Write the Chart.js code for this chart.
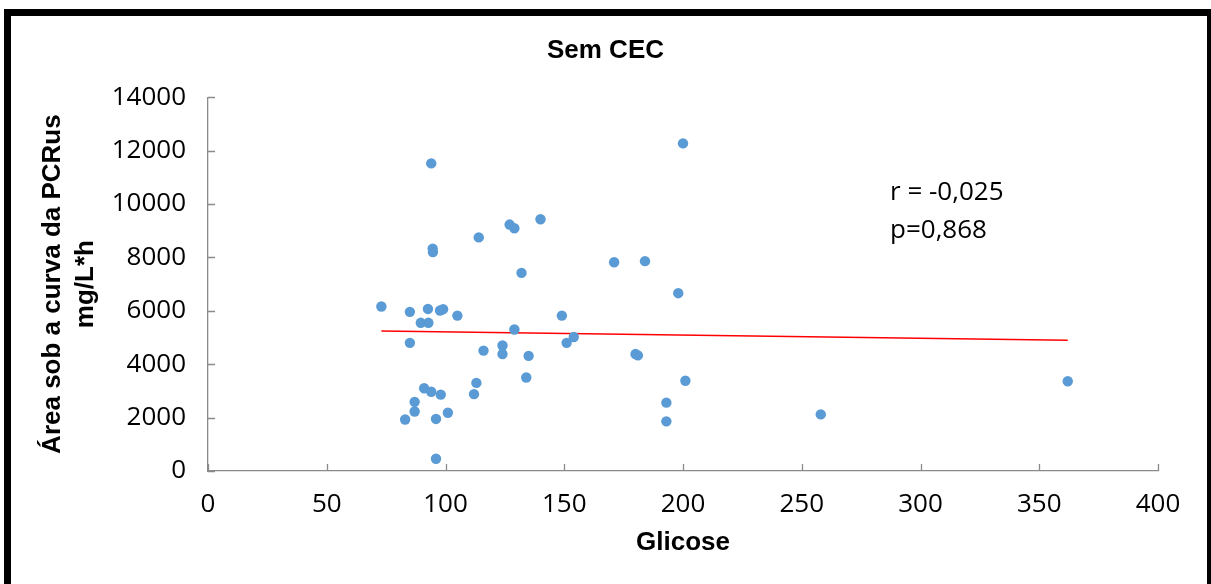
<!DOCTYPE html>
<html>
<head>
<meta charset="utf-8">
<script src="https://cdn.jsdelivr.net/npm/chart.js@4.4.1/dist/chart.umd.min.js"></script>
<style>
  html, body { margin: 0; padding: 0; background: #fff; overflow: hidden; }
  #wrap { position: relative; width: 1211px; height: 584px; }
  #c { position: absolute; left: 0; top: 0; }
  #frame { position: absolute; left: 4px; top: 9px; width: 1210px; height: 600px; box-sizing: border-box; border: 7px solid #000; pointer-events: none; }
</style>
</head>
<body>
<div id="wrap">
  <canvas id="c" width="1211" height="584"></canvas>
  <div id="frame"></div>
</div>
<script>
// Glicose (x) and area under PCRus curve (y)
const glicose = [94, 127, 129, 140, 114, 94.6, 94.7, 132, 171, 73,
                 85, 92.6, 97.7, 99, 105, 149, 89.6, 92.8, 85, 129,
                 116, 124, 124, 135, 151, 154, 134, 113, 112, 91,
                 94, 98, 87, 87, 83, 96, 101, 96, 180, 181,
                 201, 193, 193, 200, 184, 198, 258, 362];
const auc = [11520, 9230, 9090, 9430, 8750, 8330, 8200, 7420, 7820, 6160,
             5960, 6070, 6010, 6060, 5820, 5820, 5550, 5550, 4800, 5300,
             4510, 4700, 4380, 4310, 4800, 5020, 3500, 3300, 2880, 3100,
             2970, 2860, 2590, 2230, 1930, 1950, 2180, 460, 4380, 4330,
             3380, 2560, 1860, 12270, 7860, 6660, 2120, 3360];
// Linear trend line end points
const trendX = [73, 362];
const trendY = [5248, 4900];
// Axis ranges / ticks
const xTicks = [0, 50, 100, 150, 200, 250, 300, 350, 400];
const yTicks = [0, 2000, 4000, 6000, 8000, 10000, 12000, 14000];
const statsText = ['r = -0,025', 'p=0,868'];

const scatterPts = glicose.map((x, i) => ({ x: x, y: auc[i] }));
const trendPts = trendX.map((x, i) => ({ x: x, y: trendY[i] }));

const AXIS_COLOR = '#8a8a8a';

const insideTicks = {
  id: 'insideTicks',
  afterDraw(chart) {
    const ctx = chart.ctx;
    const xs = chart.scales.x, ys = chart.scales.y;
    ctx.save();
    ctx.strokeStyle = AXIS_COLOR;
    ctx.lineWidth = 1.3;
    ctx.beginPath();
    xTicks.forEach(v => {
      const px = Math.round(xs.getPixelForValue(v)) + 0.5;
      ctx.moveTo(px, ys.bottom);
      ctx.lineTo(px, ys.bottom - 7);
    });
    yTicks.forEach(v => {
      const py = Math.round(ys.getPixelForValue(v)) + 0.5;
      ctx.moveTo(xs.left, py);
      ctx.lineTo(xs.left + 7, py);
    });
    ctx.stroke();
    // stats annotation
    ctx.fillStyle = '#000';
    ctx.font = '26px "Open Sans", sans-serif';
    ctx.textBaseline = 'middle';
    ctx.textAlign = 'left';
    ctx.fillText(statsText[0], 890, 193);
    ctx.fillText(statsText[1], 890, 231);
    ctx.restore();
  }
};

new Chart(document.getElementById('c'), {
  type: 'scatter',
  data: {
    datasets: [
      {
        label: 'dados',
        data: scatterPts,
        backgroundColor: '#5B9BD5',
        borderWidth: 0,
        pointRadius: 5.2,
        pointHoverRadius: 5.2
      },
      {
        label: 'tendência',
        type: 'line',
        data: trendPts,
        borderColor: '#FF0000',
        borderWidth: 1.5,
        pointRadius: 0,
        fill: false,
        tension: 0
      }
    ]
  },
  plugins: [insideTicks],
  options: {
    responsive: false,
    animation: false,
    layout: { padding: { left: 0, right: 0, top: 0, bottom: 0 } },
    plugins: {
      legend: { display: false },
      tooltip: { enabled: false },
      title: {
        display: true,
        text: 'Sem CEC',
        color: '#000',
        font: { family: '"Liberation Sans", Arial, sans-serif', size: 26, weight: 'bold', lineHeight: 1.2 },
        padding: { top: 35, bottom: 31 }
      }
    },
    scales: {
      x: {
        type: 'linear',
        min: 0, max: 400,
        afterBuildTicks(s) { s.ticks = xTicks.map(v => ({ value: v })); },
        afterFit(s) { s.height = 113; },
        grid: { display: false, drawTicks: false },
        border: { display: true, color: AXIS_COLOR, width: 1.3 },
        ticks: {
          color: '#000',
          padding: 18,
          maxRotation: 0,
          callback: v => String(v),
          font: { family: '"Open Sans", sans-serif', size: 26 }
        },
        title: {
          display: true,
          text: 'Glicose',
          color: '#000',
          font: { family: '"Liberation Sans", Arial, sans-serif', size: 26, weight: 'bold', lineHeight: 1.2 },
          padding: { top: 0, bottom: 26 }
        }
      },
      y: {
        type: 'linear',
        min: 0, max: 14000,
        afterBuildTicks(s) { s.ticks = yTicks.map(v => ({ value: v })); },
        afterFit(s) { s.width = 208; },
        grid: { display: false, drawTicks: false },
        border: { display: true, color: AXIS_COLOR, width: 1.3 },
        ticks: {
          color: '#000',
          padding: 22,
          callback: v => String(v),
          font: { family: '"Open Sans", sans-serif', size: 26 }
        },
        title: {
          display: true,
          text: ['Área sob a curva da PCRus', 'mg/L*h'],
          color: '#000',
          font: { family: '"Liberation Sans", Arial, sans-serif', size: 26, weight: 'bold', lineHeight: 1.25 },
          padding: { top: 37, bottom: 0 }
        }
      },
      yRight: {
        type: 'linear',
        position: 'right',
        display: true,
        afterFit(s) { s.width = 53; },
        grid: { display: false, drawTicks: false },
        border: { display: false },
        ticks: { display: false },
        title: { display: false }
      }
    }
  }
});
</script>
</body>
</html>
